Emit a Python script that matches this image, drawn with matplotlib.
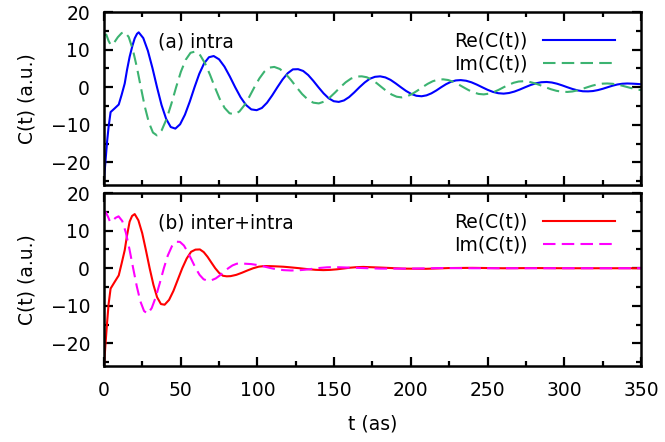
import matplotlib
matplotlib.use('Agg')
import matplotlib.pyplot as plt
from matplotlib.ticker import MultipleLocator

# (a) intra: real part
t_re_a = [0, 1, 2, 3, 4.3, 7, 9.6, 11.5, 13.5, 15, 16.7, 18.5, 20, 21.5, 22.6,
          25.6, 28.6, 31.6, 34.55, 37.5, 40.5, 43.5, 46.5,
          49.6, 52.75, 55.9, 59, 62.1, 65.25, 68.4, 71.5,
          75, 78.5, 82, 85.5, 89, 92.5, 96, 99.5,
          102.9, 106.25, 109.6, 113, 116.4, 119.75, 123.1, 126.5,
          129.8, 133.1, 136.4, 139.75, 143.1, 146.4, 149.7, 153,
          156.4, 159.75, 163.1, 166.5, 169.9, 173.25, 176.6, 180,
          183.4, 186.75, 190.1, 193.5, 196.9, 200.25, 203.6, 207,
          210.2, 213.4, 216.6, 219.75, 222.9, 226.1, 229.3, 232.5,
          236, 239.5, 243, 246.5, 250, 253.5, 257, 260.5,
          264, 267.5, 271, 274.5, 278, 281.5, 285, 288.5,
          291.9, 295.25, 298.6, 302, 305.4, 308.75, 312.1, 315.5,
          318.7, 321.9, 325.1, 328.25, 331.4, 334.6, 337.8, 341,
          344.5, 347.5, 350]
re_a = [-24.5, -19.5, -14.5, -10.5, -6.6, -5.6, -4.6, -2.0, 1.0, 4.6, 8.1, 11.0, 13.0, 14.2, 14.6,
        13.07, 9.69, 5.07, 0, -4.73, -8.41, -10.58, -11.0,
        -9.85, -7.30, -3.83, 0, 3.57, 6.35, 7.98, 8.3,
        7.42, 5.49, 2.87, 0, -2.65, -4.70, -5.89, -6.1,
        -5.51, -4.12, -2.18, 0, 2.07, 3.73, 4.75, 4.8,
        4.33, 3.24, 1.71, 0, -1.62, -2.92, -3.71, -3.9,
        -3.51, -2.62, -1.38, 0, 1.26, 2.26, 2.77, 2.9,
        2.61, 1.96, 1.03, 0, -0.99, -1.78, -2.27, -2.4,
        -2.16, -1.62, -0.86, 0, 0.80, 1.44, 1.81, 1.9,
        1.73, 1.31, 0.70, 0, -0.68, -1.24, -1.59, -1.7,
        -1.53, -1.15, -0.61, 0, 0.58, 1.05, 1.33, 1.4,
        1.26, 0.94, 0.50, 0, -0.47, -0.84, -1.07, -1.1,
        -1.01, -0.76, -0.41, 0, 0.40, 0.73, 0.93, 1.0,
        0.95, 0.88, 0.8]

# (a) intra: imaginary part
t_im_a = [0, 1.5, 3, 4.5, 6.5, 9, 11.5, 13.5,
          16.1, 18.75, 21.4, 24, 26.6, 29.25, 31.9, 34.5,
          37.6, 40.75, 43.9, 47, 50.1, 53.25, 56.4, 59.5,
          62.7, 65.9, 69.1, 72.25, 75.4, 78.6, 81.8, 85,
          88.25, 91.5, 94.75, 98, 101.25, 104.5, 107.75, 111,
          114.6, 118.25, 121.9, 125.5, 129.1, 132.75, 136.4, 140,
          143.5, 147, 150.5, 154, 157.5, 161, 164.5, 168,
          171.25, 174.5, 177.75, 181, 184.25, 187.5, 190.75, 194,
          197.4, 200.75, 204.1, 207.5, 210.9, 214.25, 217.6, 221,
          224.3, 227.6, 230.9, 234.25, 237.6, 240.9, 244.2, 247.5,
          250.75, 254, 257.25, 260.5, 263.75, 267, 270.25, 273.5,
          277.1, 280.6, 284.2, 287.75, 291.3, 294.9, 298.4, 302,
          305.25, 308.5, 311.75, 315, 318.25, 321.5, 324.75, 328,
          331.4, 334.75, 338.1, 341.5, 344.9, 348.25, 350]
im_a = [13.8, 14.0, 12.3, 11.2, 11.8, 13.3, 14.4, 14.7,
        13.36, 10.05, 5.36, 0, -5.17, -9.38, -12.05, -12.8,
        -11.44, -8.46, -4.42, 0, 4.11, 7.30, 9.16, 9.5,
        8.51, 6.31, 3.31, 0, -3.09, -5.49, -6.91, -7.2,
        -6.45, -4.79, -2.51, 0, 2.33, 4.15, 5.22, 5.4,
        4.86, 3.62, 1.91, 0, -1.80, -3.23, -4.10, -4.3,
        -3.81, -2.79, -1.44, 0, 1.31, 2.30, 2.84, 2.9,
        2.66, 2.01, 1.08, 0, -1.06, -1.94, -2.52, -2.7,
        -2.43, -1.80, -0.95, 0, 0.89, 1.59, 2.01, 2.1,
        1.92, 1.45, 0.78, 0, -0.76, -1.38, -1.78, -1.9,
        -1.72, -1.29, -0.69, 0, 0.65, 1.19, 1.52, 1.6,
        1.44, 1.07, 0.56, 0, -0.53, -0.95, -1.19, -1.25,
        -1.13, -0.84, -0.44, 0, 0.42, 0.75, 0.95, 1.0,
        0.92, 0.70, 0.37, 0, -0.36, -0.66, -0.75]

# (b) inter+intra: real part
t_re_b = [0, 1, 2, 3, 4.3, 7, 9.6, 11.5, 13.5, 15, 16.7, 18.3, 20,
          22.4, 24.9, 27.3, 29.75, 32.2, 34.6, 37.1, 39.5,
          42.4, 45.25, 48.1, 51, 53.9, 56.75, 59.6, 62.5,
          65, 67.5, 70, 72.5, 75, 77.5, 80, 82.5,
          86.2, 89.9, 93.6, 97.25, 100.9, 104.6, 108.3, 112,
          117, 122, 127.5, 133, 138, 143,
          147.3, 151.7, 156, 160.3, 164.7, 169,
          182, 195, 210, 225, 240, 260, 280, 300, 320, 350]
re_b = [-26, -20, -14.5, -9.5, -5.4, -3.6, -1.9, 1.3, 4.8, 8.7, 12.4, 13.9, 14.4,
        12.75, 9.33, 4.83, 0, -4.39, -7.71, -9.52, -9.7,
        -8.42, -6.03, -3.04, 0, 2.59, 4.37, 4.95, 5.0,
        4.29, 3.03, 1.50, 0, -1.22, -2.0, -2.15, -2.1,
        -1.76, -1.2, -0.57, 0, 0.42, 0.58, 0.56, 0.5,
        0.4, 0.22, 0.0, -0.25, -0.42, -0.5,
        -0.44, -0.29, -0.08, 0.14, 0.29, 0.35,
        0.15, -0.1, -0.15, 0.05, 0.1, 0.0, 0.05, 0.0, 0.0, 0.0]

# (b) inter+intra: imaginary part
t_im_b = [0, 1, 2.5, 4, 5.5, 7.5, 9.5,
          11.9, 14.25, 16.6, 19, 21.4, 23.75, 26.1, 28.5,
          31.1, 33.75, 36.4, 39, 41.6, 44.25, 46.9, 49.5,
          52.1, 54.6, 57.2, 59.75, 62.3, 64.9, 67.4, 70,
          72.75, 75.5, 78.25, 81, 83.75, 86.5, 89.25, 92,
          96, 100, 104, 108, 112, 117, 122,
          126.7, 131.3, 136, 140.7, 145.3, 150,
          165, 180, 200, 220, 240, 270, 300, 350]
im_b = [14.5, 15.0, 13.8, 12.3, 12.6, 13.4, 13.8,
        12.56, 9.46, 5.04, 0, -4.88, -8.86, -11.37, -12.1,
        -10.59, -7.66, -3.90, 0, 3.41, 5.85, 7.06, 7.0,
        6.03, 4.28, 2.14, 0, -1.77, -2.93, -3.3, -3.2,
        -2.73, -1.91, -0.94, 0, 0.75, 1.20, 1.34, 1.2,
        1.1, 0.85, 0.5, 0.1, -0.25, -0.5, -0.6,
        -0.54, -0.38, -0.15, 0.08, 0.24, 0.3,
        0.1, -0.1, -0.1, 0.05, 0.0, 0.0, 0.0, 0.0]

panel_labels = ['(a) intra', '(b) inter+intra']
re_colors = ['#0000ff', '#ff0000']
im_colors = ['#3cb371', '#ff00ff']

plt.rcParams['font.size'] = 13.5

fig = plt.figure(figsize=(6.65, 4.42), dpi=100)
ax1 = fig.add_axes([0.1564, 0.5814, 0.8075, 0.3914])
ax2 = fig.add_axes([0.1564, 0.1719, 0.8075, 0.3914])

series = [(t_re_a, re_a, t_im_a, im_a), (t_re_b, re_b, t_im_b, im_b)]

for i, ax in enumerate([ax1, ax2]):
    tr, yr, ti, yi = series[i]
    ax.plot(tr, yr, color=re_colors[i], lw=1.5, label='Re(C(t))',
            solid_joinstyle='round')
    ax.plot(ti, yi, color=im_colors[i], lw=1.5, dashes=(6, 3), label='Im(C(t))',
            dash_joinstyle='round')
    ax.set_xlim(0, 350)
    ax.set_ylim(-26, 20)
    ax.xaxis.set_major_locator(MultipleLocator(50))
    ax.xaxis.set_minor_locator(MultipleLocator(25))
    ax.yaxis.set_major_locator(MultipleLocator(10))
    ax.yaxis.set_minor_locator(MultipleLocator(5))
    ax.tick_params(which='both', direction='in', top=True, right=True, width=1.6)
    ax.tick_params(which='major', length=6.5)
    ax.tick_params(which='minor', length=3.6)
    ax.tick_params(axis='y', pad=10)
    ax.tick_params(axis='x', pad=11)
    for sp in ax.spines.values():
        sp.set_linewidth(1.8)
    ax.set_ylabel('C(t) (a.u.)')
    ax.yaxis.set_label_coords(-0.125, 0.5)
    ax.text(35, 12, panel_labels[i], va='center', ha='left')
    ax.legend(loc='upper right', bbox_to_anchor=(0.9516, 0.885), frameon=False,
              markerfirst=False, handlelength=3.85, handletextpad=0.8,
              labelspacing=0.2, borderpad=0, borderaxespad=0)

ax1.tick_params(labelbottom=False)
ax2.set_xlabel('t (as)', labelpad=10)

fig.savefig('out.png', dpi=100)
